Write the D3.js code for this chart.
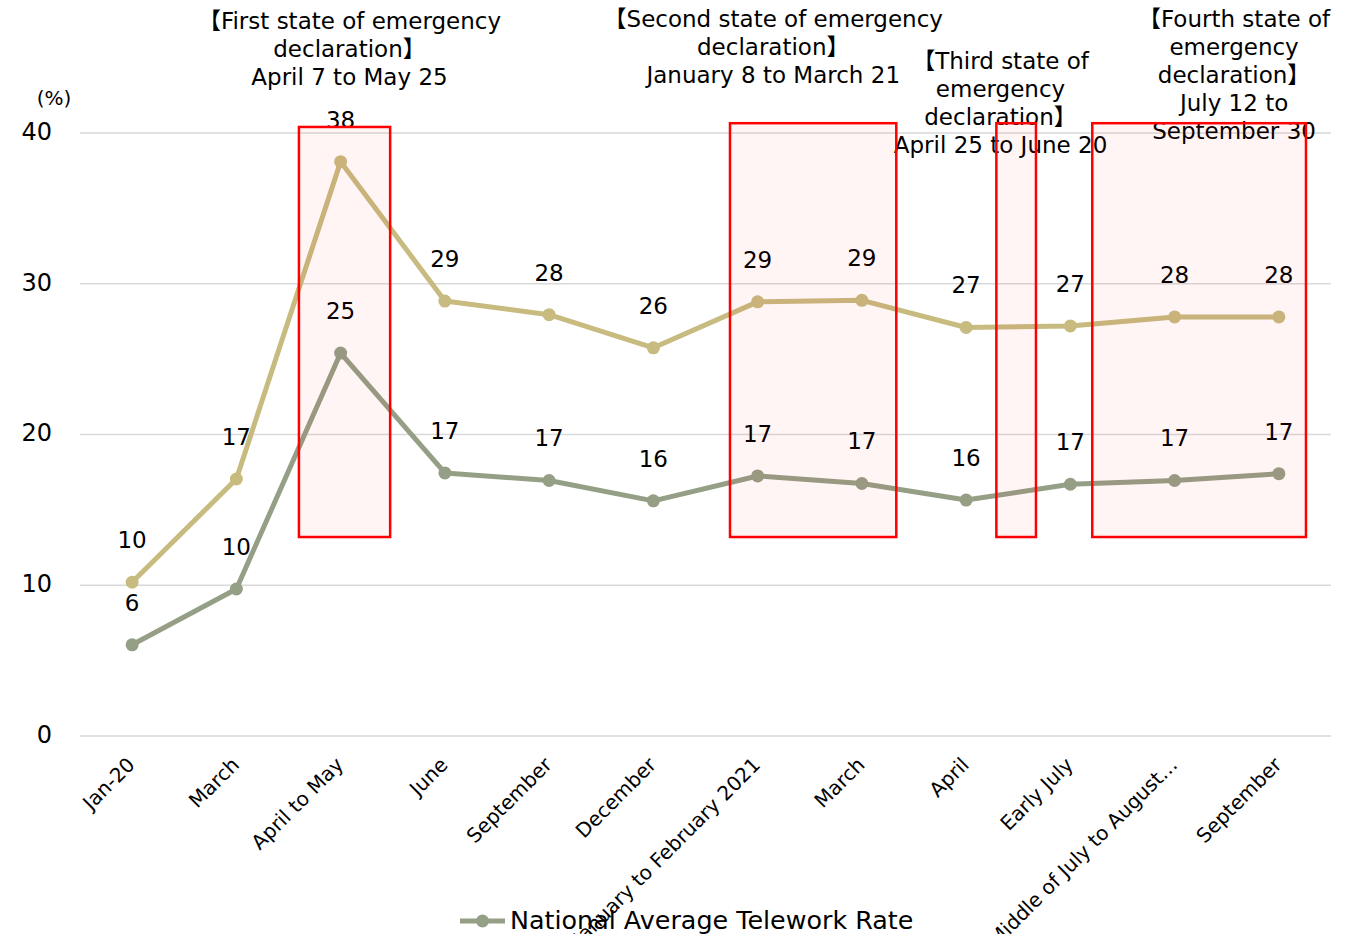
<!DOCTYPE html>
<html>
<head>
<meta charset="utf-8">
<script src="https://cdn.jsdelivr.net/npm/d3@7"></script>
<style>
  html, body { margin: 0; padding: 0; background: #fff; }
  svg text { font-family: "DejaVu Sans", "Noto Sans CJK JP", sans-serif; fill: #000; }
</style>
</head>
<body>
<svg id="chart" width="1359" height="934"></svg>
<script>
// Survey periods (x categories)
const categories = [
  "Jan-20", "March", "April to May", "June", "September", "December",
  "January to February 2021", "March", "April", "Early July",
  "Middle of July to August…", "September"
];

// Telework rate, metropolitan area (%)
const metroRate = [10.2, 17.05, 38.1, 28.85, 27.95, 25.75, 28.8, 28.9, 27.1, 27.2, 27.8, 27.8];

// Telework rate, national average (%)
const nationalRate = [6.05, 9.75, 25.4, 17.45, 16.95, 15.6, 17.25, 16.75, 15.65, 16.7, 16.95, 17.4];

const seriesNames = ["Metropolitan Area Telework Rate", "National Average Telework Rate"];
const yTicks = [0, 10, 20, 30, 40];

// State of emergency periods: [first category index, last category index], annotation lines
const emergencyPeriods = [
  { from: 1.60, to: 2.475, top: 40.4, lines: ["【First state of emergency", "declaration】", "April 7 to May 25"] },
  { from: 5.735, to: 7.33, top: 40.65, lines: ["【Second state of emergency", "declaration】", "January 8 to March 21"] },
  { from: 8.29, to: 8.67, top: 40.65, lines: ["【Third state of", "emergency", "declaration】", "April 25 to June 20"] },
  { from: 9.21, to: 11.26, top: 40.65, lines: ["【Fourth state of", "emergency", "declaration】", "July 12 to", "September 30"] }
];
const periodBottom = 13.2;

// Annotation anchor (category index of text centre, top line centre y)
const annotationCentres = [2.085, 6.15, 8.33, 10.57];
const annotationTops = [21, 19, 61, 19];

const colors = ["#c8bb80", "#959f86"];

const svg = d3.select("#chart");
const margin = { left: 80, right: 28, top: 133, bottom: 198 };
const W = 1359, H = 934;

const xBand = d3.scaleBand()
  .domain(d3.range(categories.length))
  .range([margin.left, W - margin.right])
  .padding(0);
const bw = xBand.bandwidth();
const xc = i => xBand(i) + bw / 2;
const xIdx = d3.scaleLinear()
  .domain([0, categories.length - 1])
  .range([xc(0), xc(categories.length - 1)]);

const y = d3.scaleLinear().domain([0, 40]).range([H - margin.bottom, margin.top]);

// Gridlines
svg.append("g").selectAll("line").data(yTicks).join("line")
  .attr("x1", margin.left).attr("x2", W - margin.right)
  .attr("y1", d => y(d)).attr("y2", d => y(d))
  .attr("stroke", "#d9d9d9").attr("stroke-width", 1.5);

// Y axis labels
const yAxis = d3.axisLeft(y).tickValues(yTicks).tickSize(0).tickPadding(0);
const gy = svg.append("g").attr("transform", "translate(52,0)").call(yAxis);
gy.select(".domain").remove();
gy.selectAll("text").style("font-size", "24px").style("font-family", "DejaVu Sans").attr("dy", "0.26em");

svg.append("text").attr("x", 54).attr("y", 105).attr("text-anchor", "middle")
  .style("font-size", "20px").text("(%)");

// X axis labels
const xAxis = d3.axisBottom(xBand).tickSize(0).tickFormat(i => categories[i]);
const gx = svg.append("g").attr("transform", `translate(0,${y(0)})`).call(xAxis);
gx.select(".domain").remove();
gx.selectAll(".tick text")
  .attr("x", 0).attr("y", 0).attr("dy", 0)
  .attr("text-anchor", "end")
  .attr("transform", "translate(4,30) rotate(-45)")
  .style("font-size", "20px").style("font-family", "DejaVu Sans");

// Series
const allSeries = [metroRate, nationalRate];
const line = d3.line().x((d, i) => xc(i)).y(d => y(d));
const fmt = d3.format(".0f");

allSeries.forEach((vals, s) => {
  const g = svg.append("g");
  g.append("path").datum(vals)
    .attr("d", line).attr("fill", "none")
    .attr("stroke", colors[s]).attr("stroke-width", 5)
    .attr("stroke-linejoin", "round");
  g.selectAll("circle").data(vals).join("circle")
    .attr("cx", (d, i) => xc(i)).attr("cy", d => y(d)).attr("r", 6.5)
    .attr("fill", colors[s]);
  g.selectAll("text").data(vals).join("text")
    .attr("x", (d, i) => xc(i)).attr("y", d => y(d) - 34)
    .attr("text-anchor", "middle").style("font-size", "23px")
    .text(d => fmt(d));
});

// Emergency annotations
emergencyPeriods.forEach((p, k) => {
  const t = svg.append("text").attr("text-anchor", "middle").style("font-size", "23px");
  p.lines.forEach((ln, j) => {
    t.append("tspan").attr("x", xIdx(annotationCentres[k]))
      .attr("y", annotationTops[k] + 28 * j + 8).text(ln);
  });
});

// Emergency period boxes
svg.append("g").selectAll("rect").data(emergencyPeriods).join("rect")
  .attr("x", d => xIdx(d.from)).attr("width", d => xIdx(d.to) - xIdx(d.from))
  .attr("y", d => y(d.top)).attr("height", d => y(periodBottom) - y(d.top))
  .attr("fill", "rgba(255,0,0,0.04)")
  .attr("stroke", "#ff0000").attr("stroke-width", 2.5);

// Legend (national average)
const lg = svg.append("g").attr("transform", "translate(460,921)");
lg.append("line").attr("x1", 0).attr("x2", 45).attr("y1", 0).attr("y2", 0)
  .attr("stroke", colors[1]).attr("stroke-width", 5);
lg.append("circle").attr("cx", 22.5).attr("cy", 0).attr("r", 6.5).attr("fill", colors[1]);
lg.append("text").attr("x", 50).attr("y", 0).attr("dy", "0.3em")
  .style("font-size", "25.4px").text(seriesNames[1]);
</script>
</body>
</html>
